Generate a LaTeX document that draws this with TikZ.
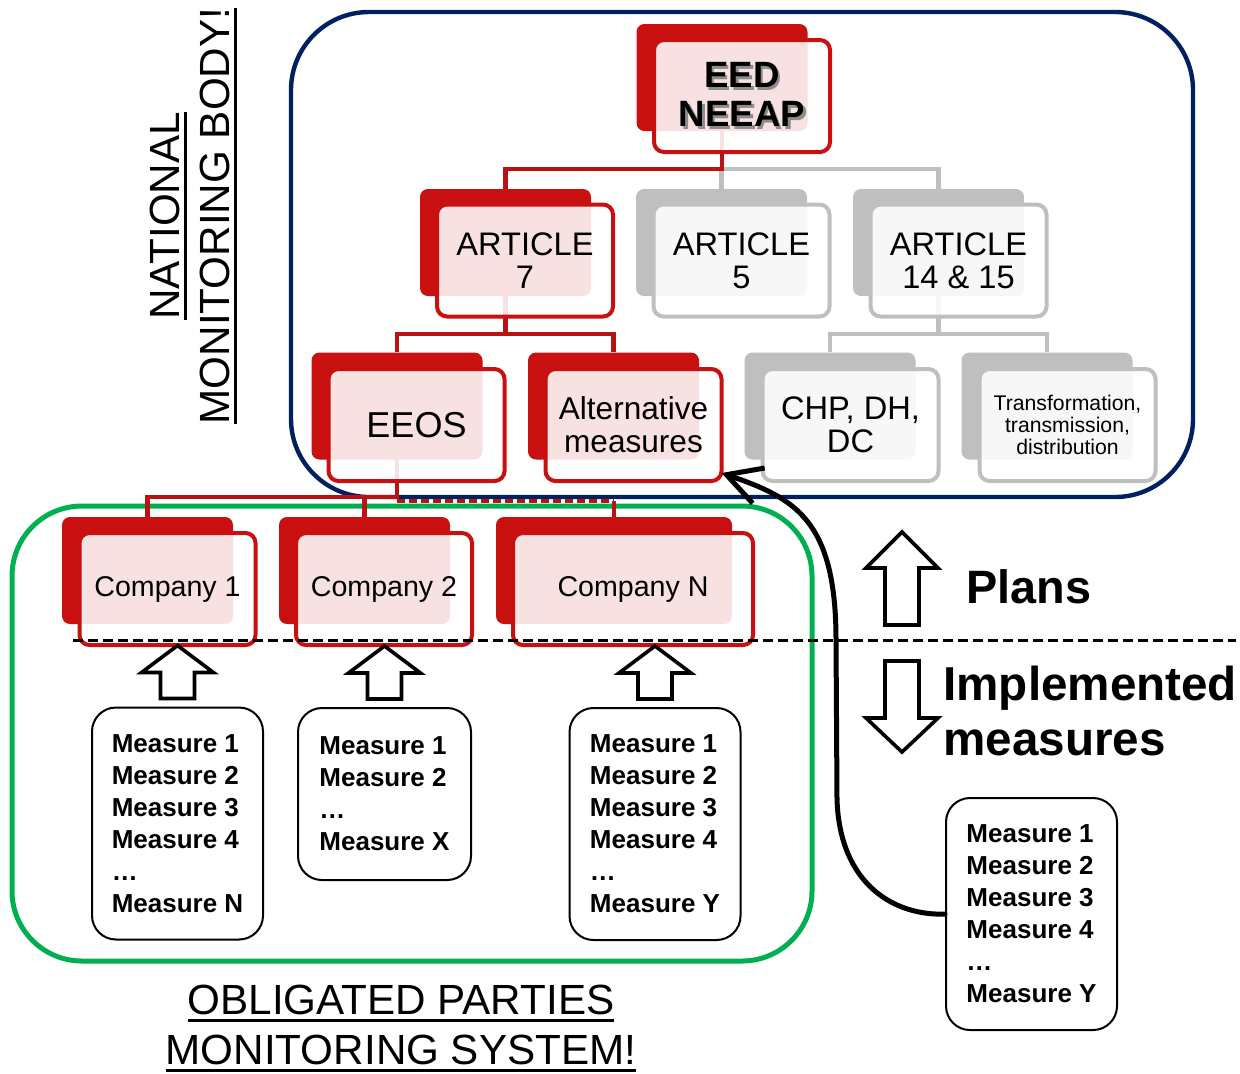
\documentclass[tikz,border=0pt]{standalone}
\usepackage{fontspec}
\setmainfont{Liberation Sans}
\usetikzlibrary{arrows.meta,calc}
\pgfdeclarelayer{containers}
\pgfdeclarelayer{connectors}
\pgfsetlayers{containers,connectors,main}
\definecolor{boxred}{RGB}{200,16,16}
\definecolor{connred}{RGB}{184,18,18}
\definecolor{boxgray}{RGB}{191,191,191}
\definecolor{navyline}{RGB}{0,32,96}
\definecolor{greenline}{RGB}{0,176,80}
\newcommand{\shtext}[1]{\makebox[0pt][l]{\hspace{1.3pt}\raisebox{-1.3pt}{\textcolor{black!45}{#1}}}#1}
\newsavebox{\ulbox}
\newcommand{\uln}[1]{\sbox{\ulbox}{#1}\makebox[0pt][l]{\rule[-3.5pt]{\wd\ulbox}{1.5pt}}\usebox{\ulbox}}
\begin{document}
\begin{tikzpicture}[x=0.5pt,y=-0.5pt,
  backbox/.style={rectangle, rounded corners=4pt, draw=none, minimum width=85.5pt, minimum height=53.5pt, inner sep=0pt},
  redback/.style={backbox, fill=boxred},
  grayback/.style={backbox, fill=boxgray},
  frontbox/.style={rectangle, rounded corners=5pt, fill=white, fill opacity=0.88, text opacity=1, line width=2pt, minimum width=88pt, minimum height=56pt, inner sep=0pt, align=center, text=black},
  redfront/.style={frontbox, draw=boxred},
  grayfront/.style={frontbox, draw=boxgray},
  redconn/.style={draw=connred, line width=2.2pt},
  grayconn/.style={draw=boxgray, line width=2.2pt},
  measbox/.style={rectangle, draw=black, line width=1pt, rounded corners=12pt, fill=white, align=left, inner sep=0pt, font=\bfseries\fontsize{13}{16}\selectfont, minimum width=85.5pt, minimum height=116pt},
  blockarr/.style={draw=black, fill=white, line width=1.8pt, line join=miter},
  container/.style={rectangle, fill=none, inner sep=0pt},
  pics/blockarrow/.style n args={2}{code={
    \draw[blockarr] (0,0) -- (36,#2) -- (17,#2) -- (17,#1) -- (-17,#1) -- (-17,#2) -- (-36,#2) -- cycle;}},
]
\useasboundingbox (0,0) rectangle (1240,1073);

% containers
\begin{pgfonlayer}{containers}
\node[container, draw=navyline, line width=2.2pt, rounded corners=39pt, minimum width=451pt, minimum height=242.5pt] (natbox) at (742,254.5) {};
\node[container, draw=greenline, line width=2.5pt, rounded corners=35pt, minimum width=400pt, minimum height=227.5pt] (oblbox) at (412,733.5) {};
\end{pgfonlayer}

% level 1
\node[redback] (eedb) at (722,77.5) {};
\node[redfront, font=\bfseries\fontsize{18.3}{19.5}\selectfont] (eed) at (742,96) {\shtext{EED}\\\shtext{NEEAP}};

% level 2
\node[redback] (a7b) at (505.5,242.5) {};
\node[redfront, font=\fontsize{16.3}{16.5}\selectfont] (a7) at (525,260.5) {ARTICLE\\7};
\node[grayback] (a5b) at (721.5,242.5) {};
\node[grayfront, font=\fontsize{16.3}{16.5}\selectfont] (a5) at (741.5,260.5) {ARTICLE\\5};
\node[grayback] (a14b) at (938.5,242.5) {};
\node[grayfront, font=\fontsize{16.3}{16.5}\selectfont] (a14) at (958.5,260.5) {ARTICLE\\14 \& 15};

% level 3
\node[redback] (eeosb) at (397,406) {};
\node[redfront, font=\fontsize{18}{19}\selectfont] (eeos) at (416.5,425) {EEOS};
\node[redback] (altb) at (613.5,406) {};
\node[redfront, font=\fontsize{15.8}{16.5}\selectfont] (alt) at (633.5,425) {Alternative\\measures};
\node[grayback] (chpb) at (830,406) {};
\node[grayfront, font=\fontsize{16.3}{16.5}\selectfont] (chp) at (850.5,425) {CHP, DH,\\DC};
\node[grayback] (trb) at (1047,406) {};
\node[grayfront, font=\fontsize{10.6}{10.8}\selectfont] (tr) at (1067.5,425) {Transformation,\\transmission,\\distribution};

% level 4
\node[redback] (c1b) at (147.5,570.5) {};
\node[redfront, font=\fontsize{14.3}{15}\selectfont] (c1) at (167.5,589) {Company 1};
\node[redback] (c2b) at (364.5,570.5) {};
\node[redfront, font=\fontsize{14.3}{15}\selectfont] (c2) at (384,589) {Company 2};
\node[redback, minimum width=118pt] (cnb) at (614,570.5) {};
\node[redfront, minimum width=120pt, font=\fontsize{14.3}{15}\selectfont] (cn) at (633,589) {Company N};

% connectors
\coordinate (bar1) at (0,169);
\coordinate (bar2) at (0,334);
\coordinate (bar3) at (0,497);
\coordinate (bar3d) at (0,501);
\begin{pgfonlayer}{connectors}
\draw[grayconn] (eedb.center) |- (a14b.north |- bar1) -- (a14b.north);
\draw[grayconn] (a5b.north |- bar1) -- (a5b.north);
\draw[redconn] (eedb.center) |- (a7b.north |- bar1) -- (a7b.north);
\draw[redconn] (a7b.center) |- (eeosb.north |- bar2) -- (eeosb.north);
\draw[redconn] (a7b.center |- bar2) -| (altb.north);
\draw[grayconn] (a14b.center) |- (chpb.north |- bar2) -- (chpb.north);
\draw[grayconn] (a14b.center |- bar2) -| (trb.north);
\draw[redconn] (eeosb.center) |- (c1b.north |- bar3) -- (c1b.north);
\draw[redconn] (c2b.north |- bar3) -- (c2b.north);
\end{pgfonlayer}
\draw[redconn, dash pattern=on 4pt off 2pt] (eeosb.center |- bar3d) -- (cnb.north |- bar3d);
\draw[redconn] (cnb.north |- bar3d) -- (cnb.north);

% dashed separator
\coordinate (dashL) at (73,640);
\coordinate (dashR) at (1236,640);
\draw[black, line width=1.5pt, dash pattern=on 5pt off 2.5pt] (dashL) -- (dashR);

% measure boxes
\node[measbox] (m1) at (177.5,823.5) {Measure 1\\Measure 2\\Measure 3\\Measure 4\\…\\Measure N};
\node[measbox, minimum width=86.5pt, minimum height=86pt] (m2) at (384.5,794) {Measure 1\\Measure 2\\…\\Measure X};
\node[measbox] (m3) at (655,824) {Measure 1\\Measure 2\\Measure 3\\Measure 4\\…\\Measure Y};
\node[measbox] (m4) at (1031.5,914) {Measure 1\\Measure 2\\Measure 3\\Measure 4\\…\\Measure Y};

% block arrows
\pic at ($(m1.north)+(0,-61)$) {blockarrow={53}{27}};
\pic at ($(m2.north)+(0,-61)$) {blockarrow={53}{27}};
\pic at ($(m3.north)+(0,-61)$) {blockarrow={53}{27}};
\pic at (902,532) {blockarrow={93}{36}};
\pic[yscale=-1] at (902,752) {blockarrow={91}{34}};

% labels
\node[anchor=base west, inner sep=0pt, font=\bfseries\fontsize{23.4}{27.5}\selectfont] (plans) at (966,603) {Plans};
\node[anchor=west, inner sep=0pt, align=left, font=\bfseries\fontsize{23.8}{27.5}\selectfont] (impl) at (943,711) {Implemented\\measures};
\node[rotate=90, inner sep=0pt, align=center, font=\fontsize{21.1}{25}\selectfont] (natl) at (193.5,216) {\uln{NATIONAL}\\\uln{MONITORING BODY!}};
\node[inner sep=0pt, align=center, font=\fontsize{21.1}{25}\selectfont] (oblig) at (401,1028.7) {\uln{OBLIGATED PARTIES}\\\uln{MONITORING SYSTEM!}};

% curved arrow
\coordinate (tipc) at ($(alt.south east)+(-2,-10)$);
\draw[black, line width=2.5pt, line cap=round, -{Straight Barb[length=17pt, width=18.6pt, line width=2.5pt]}]
  (m4.west) .. controls (895,916) and (840,885) .. (837,800) -- (836,640) .. controls (836,520) and (795,498) .. (tipc);
\end{tikzpicture}
\end{document}
